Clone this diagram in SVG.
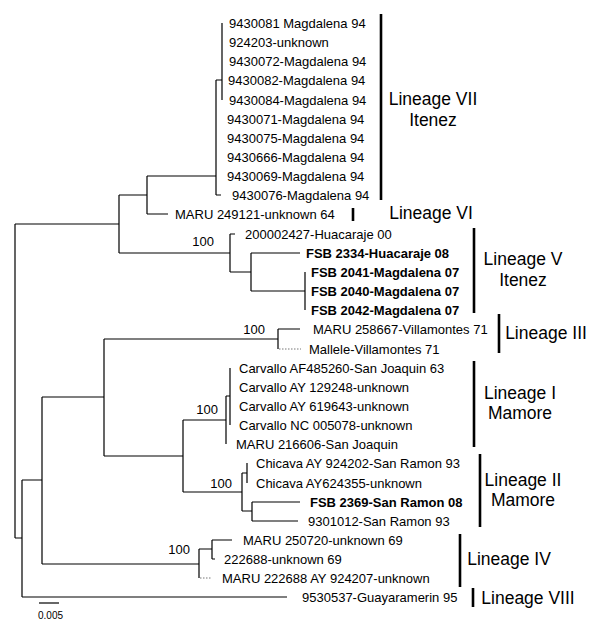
<svg xmlns="http://www.w3.org/2000/svg" width="600" height="630" viewBox="0 0 600 630">
<style>
text{font-family:"Liberation Sans",Arial,sans-serif;fill:#000}
.leaf{font-size:13px}
.b{font-weight:bold}
.bs{font-size:13px}
.lin{font-size:17.5px;text-anchor:middle}
.tree path{stroke:#000;stroke-width:1.2;fill:none}
.tree .dot{stroke:#777;stroke-width:1;stroke-dasharray:1.5 1.5}
.bar{stroke:#000;stroke-width:2.6}
</style>
<rect width="600" height="630" fill="#fff"/>
<g class="tree" id="connectors">
<path d="M15 224V538M15 224H119M15 538H22"/>
<path d="M119 195V253M119 195H147M119 253H230"/>
<path d="M147 176V214M147 176H216M147 214H168"/>
<path d="M216 80V195M216 80H222M222 23V100M216 195H221"/>
<path d="M230 234V272M230 234H235M230 272H251"/>
<path d="M251 253V291M251 253H300M251 291H305M305 272V310"/>
<path d="M22 480V597M22 480H42M22 597H287"/>
<path d="M42 397V564M42 397H104M42 564H199"/>
<path d="M104 339V456M104 339H278M104 456H183"/>
<path d="M278 329V349M278 329H300"/>
<path class="dot" d="M279 349H301"/>
<path d="M183 420V492M183 420H226M183 492H242"/>
<path d="M226 396V444M226 396H230M230 368V425"/>
<path d="M242 473V511M242 473H247M247 463V483M242 511H252M252 502V521M252 502H300M252 521H298"/>
<path d="M199 549V578M199 549H212M212 540V559M212 540H232M212 559H215"/>
<path class="dot" d="M200 578H211"/>
<path d="M39 603H59"/>
</g>
<g id="leaves" class="leaf">
<text x="229" y="27.5">9430081 Magdalena 94</text>
<text x="229" y="46.5">924203-unknown</text>
<text x="229" y="65.5">9430072-Magdalena 94</text>
<text x="228" y="84.5">9430082-Magdalena 94</text>
<text x="229" y="104.5">9430084-Magdalena 94</text>
<text x="227" y="123.5">9430071-Magdalena 94</text>
<text x="227" y="142.5">9430075-Magdalena 94</text>
<text x="227" y="161.5">9430666-Magdalena 94</text>
<text x="227" y="180.5">9430069-Magdalena 94</text>
<text x="232" y="199.5">9430076-Magdalena 94</text>
<text x="175" y="218.5">MARU 249121-unknown 64</text>
<text x="245" y="238.5">200002427-Huacaraje 00</text>
<text x="306" y="257.5" class="b">FSB 2334-Huacaraje 08</text>
<text x="311" y="276.5" class="b">FSB 2041-Magdalena 07</text>
<text x="311" y="295.5" class="b">FSB 2040-Magdalena 07</text>
<text x="311" y="314.5" class="b">FSB 2042-Magdalena 07</text>
<text x="313" y="333.5">MARU 258667-Villamontes 71</text>
<text x="309" y="353.5">Mallele-Villamontes 71</text>
<text x="239" y="372.5">Carvallo AF485260-San Joaquin 63</text>
<text x="239" y="391.5">Carvallo AY 129248-unknown</text>
<text x="239" y="410.5">Carvallo AY 619643-unknown</text>
<text x="239" y="429.5">Carvallo NC 005078-unknown</text>
<text x="236" y="448.5">MARU 216606-San Joaquin</text>
<text x="256" y="467.5">Chicava AY 924202-San Ramon 93</text>
<text x="256" y="487.5">Chicava AY624355-unknown</text>
<text x="310" y="506.5" class="b">FSB 2369-San Ramon 08</text>
<text x="308" y="525.5">9301012-San Ramon 93</text>
<text x="243" y="544.5">MARU 250720-unknown 69</text>
<text x="224" y="563.5">222688-unknown 69</text>
<text x="222" y="582.5">MARU 222688 AY 924207-unknown</text>
<text x="302" y="601.5">9530537-Guayaramerin 95</text>
</g>
<g id="bootstrap" class="bs" text-anchor="end">
<text x="214" y="246">100</text>
<text x="265" y="334">100</text>
<text x="218" y="414">100</text>
<text x="232" y="488">100</text>
<text x="190" y="554">100</text>
</g>
<g id="scale">
<text x="38" y="619" style="font-size:10px">0.005</text>
</g>
<g id="lineage-VII"><line class="bar" x1="381" y1="14" x2="381" y2="200"/><text class="lin" x="433" y="105">Lineage VII</text><text class="lin" x="433" y="126">Itenez</text></g>
<g id="lineage-VI"><line class="bar" x1="353" y1="208" x2="353" y2="221"/><text class="lin" x="431" y="219">Lineage VI</text></g>
<g id="lineage-V"><line class="bar" x1="474" y1="228" x2="474" y2="313"/><text class="lin" x="523" y="265">Lineage V</text><text class="lin" x="523" y="286">Itenez</text></g>
<g id="lineage-III"><line class="bar" x1="499" y1="314" x2="499" y2="353"/><text class="lin" x="546" y="339">Lineage III</text></g>
<g id="lineage-I"><line class="bar" x1="474" y1="361" x2="474" y2="447"/><text class="lin" x="520" y="399">Lineage I</text><text class="lin" x="520" y="419">Mamore</text></g>
<g id="lineage-II"><line class="bar" x1="480" y1="454" x2="480" y2="527"/><text class="lin" x="523" y="486">Lineage II</text><text class="lin" x="523" y="506">Mamore</text></g>
<g id="lineage-IV"><line class="bar" x1="460" y1="534" x2="460" y2="587"/><text class="lin" x="509" y="565">Lineage IV</text></g>
<g id="lineage-VIII"><line class="bar" x1="473" y1="588" x2="473" y2="607"/><text class="lin" x="528" y="604">Lineage VIII</text></g>
</svg>
